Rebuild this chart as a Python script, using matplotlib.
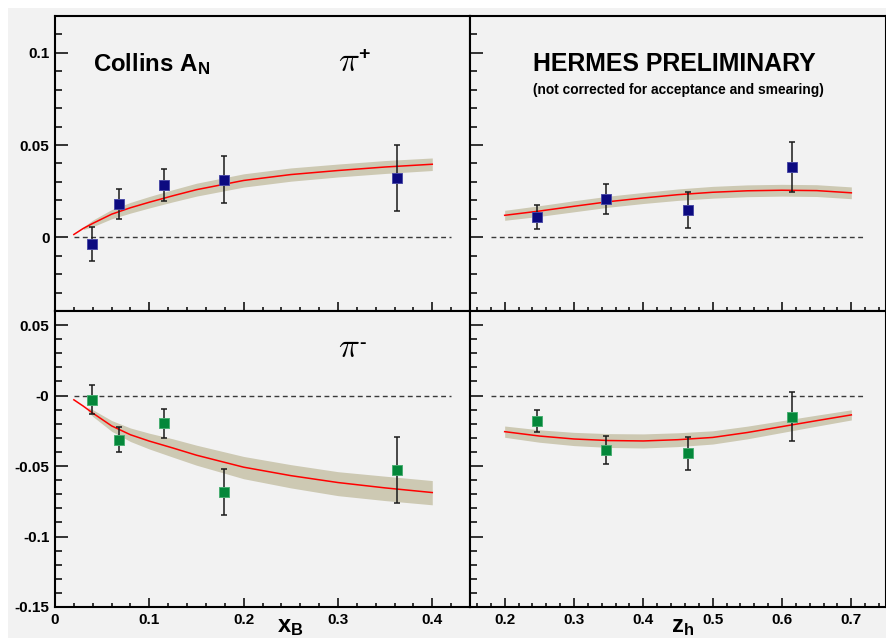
import matplotlib
matplotlib.use("Agg")
import matplotlib.pyplot as plt
from matplotlib.patches import Rectangle
from matplotlib.ticker import MultipleLocator

plt.rcParams['font.family'] = ['Liberation Sans', 'DejaVu Sans']
plt.rcParams['font.weight'] = 'bold'
plt.rcParams['mathtext.fontset'] = 'custom'
plt.rcParams['mathtext.rm'] = 'Liberation Sans:bold'
plt.rcParams['mathtext.bf'] = 'Liberation Sans:bold'
plt.rcParams['mathtext.it'] = 'Liberation Sans:bold'

### DATA ###

# HERMES Collins asymmetry, pi+ and pi- vs x_B and z_h
xb_pts = [0.039, 0.068, 0.1155, 0.179, 0.363]
zh_pts = [0.2465, 0.3455, 0.4647, 0.615]

an_pip_xb = [-0.0036, 0.0181, 0.0284, 0.0313, 0.0322]
err_pip_xb = [0.0092, 0.0080, 0.0087, 0.0127, 0.0181]
an_pim_xb = [-0.0028, -0.0313, -0.0197, -0.0685, -0.0529]
err_pim_xb = [0.0100, 0.0090, 0.0105, 0.0161, 0.0236]

an_pip_zh = [0.0111, 0.0208, 0.0148, 0.0380]
err_pip_zh = [0.0064, 0.0083, 0.0096, 0.0137]
an_pim_zh = [-0.0180, -0.0386, -0.0410, -0.0149]
err_pim_zh = [0.0075, 0.0097, 0.0116, 0.0173]

# model curves
curve_xb = [0.02, 0.03, 0.04, 0.06, 0.08, 0.10, 0.125, 0.15, 0.20, 0.25, 0.30, 0.35, 0.40]
curve_pip_xb = [0.0015, 0.0048, 0.0075, 0.0125, 0.0160, 0.0190, 0.0225, 0.0258, 0.0308, 0.0340, 0.0362, 0.0381, 0.0396]
curve_pim_xb = [-0.0030, -0.0075, -0.0124, -0.0215, -0.0278, -0.0323, -0.0372, -0.0423, -0.0508, -0.0568, -0.0617, -0.0655, -0.0688]

curve_zh = [0.20, 0.25, 0.30, 0.35, 0.40, 0.45, 0.50, 0.55, 0.60, 0.65, 0.70]
curve_pip_zh = [0.0119, 0.0142, 0.0168, 0.0193, 0.0213, 0.0231, 0.0244, 0.0252, 0.0255, 0.0253, 0.0241]
curve_pim_zh = [-0.0256, -0.0287, -0.0308, -0.0319, -0.0322, -0.0313, -0.0297, -0.0262, -0.0220, -0.0178, -0.0137]

# model uncertainty bands
band_pip_xb = [0.03, 0.04, 0.06, 0.08, 0.10, 0.125, 0.15, 0.20, 0.25, 0.30, 0.35, 0.40]
band_pip_xb_lo = [0.0042, 0.0057, 0.0100, 0.0131, 0.0159, 0.0192, 0.0223, 0.0272, 0.0304, 0.0327, 0.0346, 0.0362]
band_pip_xb_hi = [0.0056, 0.0093, 0.0150, 0.0189, 0.0221, 0.0258, 0.0293, 0.0344, 0.0376, 0.0397, 0.0416, 0.0430]

band_pim_xb = [0.035, 0.04, 0.06, 0.08, 0.10, 0.125, 0.15, 0.20, 0.25, 0.30, 0.35, 0.40]
band_pim_xb_lo = [-0.0114, -0.0148, -0.0253, -0.0326, -0.0379, -0.0437, -0.0494, -0.0590, -0.0655, -0.0710, -0.0745, -0.0775]
band_pim_xb_hi = [-0.0084, -0.0100, -0.0177, -0.0230, -0.0267, -0.0307, -0.0352, -0.0432, -0.0490, -0.0540, -0.0572, -0.0603]

band_pip_zh_lo = [0.0092, 0.0113, 0.0138, 0.0163, 0.0183, 0.0200, 0.0212, 0.0220, 0.0223, 0.0221, 0.0209]
band_pip_zh_hi = [0.0146, 0.0171, 0.0198, 0.0223, 0.0243, 0.0262, 0.0276, 0.0284, 0.0287, 0.0285, 0.0273]
band_pim_zh_lo = [-0.0296, -0.0331, -0.0355, -0.0368, -0.0372, -0.0362, -0.0344, -0.0307, -0.0262, -0.0217, -0.0173]
band_pim_zh_hi = [-0.0216, -0.0243, -0.0261, -0.0270, -0.0272, -0.0264, -0.0250, -0.0217, -0.0178, -0.0139, -0.0101]

# axis ranges, ticks and zero-line extents
xb_range = (0.0, 0.44)
zh_range = (0.15, 0.75)
top_range = (-0.04, 0.12)
bot_range = (-0.15, 0.06)
zero_xb = (0.02, 0.42)
zero_zh = (0.18, 0.72)

xb_ticks = [0.0, 0.1, 0.2, 0.3, 0.4]
xb_labels = ['0', '0.1', '0.2', '0.3', '0.4']
zh_ticks = [0.2, 0.3, 0.4, 0.5, 0.6, 0.7]
zh_labels = ['0.2', '0.3', '0.4', '0.5', '0.6', '0.7']
top_ticks = [0.0, 0.05, 0.1]
top_labels = ['0', '0.05', '0.1']
bot_ticks = [-0.15, -0.1, -0.05, 0.0, 0.05]
bot_labels = ['-0.15', '-0.1', '-0.05', '-0', '0.05']

BG = '#f2f2f2'
BAND = '#cdc9b3'
BLUE, BLUE_EDGE = '#0c0a80', '#4a4aa6'
GREEN, GREEN_EDGE = '#04873a', '#4aae72'

W, H = 886, 638
fig = plt.figure(figsize=(W / 100, H / 100), dpi=100, facecolor='white')
fig.patches.append(Rectangle((8 / W, 0), 1, 1 - 8 / H, transform=fig.transFigure,
                             facecolor=BG, edgecolor='none', zorder=-5))

L, M, R = 55 / W, 470 / W, 1.0
T, C, B = 1 - 16 / H, 1 - 311 / H, 1 - 607 / H
ax_tl = fig.add_axes([L, C, M - L, T - C])
ax_tr = fig.add_axes([M, C, R - M, T - C])
ax_bl = fig.add_axes([L, B, M - L, C - B])
ax_br = fig.add_axes([M, B, R - M, C - B])


def style(ax, xr, yr, xt, xl, yt, yl):
    ax.set_facecolor(BG)
    ax.set_xlim(*xr)
    ax.set_ylim(*yr)
    ax.set_xticks(xt, xl if xl else [''] * len(xt))
    ax.set_yticks(yt, yl if yl else [''] * len(yt))
    ax.xaxis.set_minor_locator(MultipleLocator(0.02))
    ax.yaxis.set_minor_locator(MultipleLocator(0.01))
    for s in ax.spines.values():
        s.set_linewidth(1.5)
    ax.tick_params(axis='both', which='both', direction='in', width=1.1,
                   labelsize=11, top=False, right=False)
    ax.tick_params(axis='x', which='major', length=6.5, pad=4)
    ax.tick_params(axis='x', which='minor', length=3.2)
    ax.tick_params(axis='y', which='major', length=9.4, pad=4)
    ax.tick_params(axis='y', which='minor', length=4.7)
    for lab in ax.get_xticklabels() + ax.get_yticklabels():
        lab.set_fontweight('bold')


def draw(ax, x, y, err, face, edge, cx, cy, bx, blo, bhi, zero):
    ax.hlines(0, zero[0], zero[1], colors='#3a3a3a', linestyles=(0, (3.5, 2.5)),
              linewidth=1.0, zorder=1)
    ax.fill_between(bx, blo, bhi, color=BAND, linewidth=0, zorder=2)
    ax.plot(cx, cy, color='#ff0000', lw=1.1, zorder=3)
    ax.errorbar(x, y, yerr=err, fmt='none', ecolor='#1a1a1a', elinewidth=1.1,
                capsize=2.2, capthick=1.1, zorder=4)
    ax.plot(x, y, 's', ms=7.7, mfc=face, mec=edge, mew=0.7, zorder=5)


style(ax_tl, xb_range, top_range, xb_ticks, None, top_ticks, top_labels)
style(ax_tr, zh_range, top_range, zh_ticks, None, top_ticks, None)
style(ax_bl, xb_range, bot_range, xb_ticks, xb_labels, bot_ticks, bot_labels)
style(ax_br, zh_range, bot_range, zh_ticks, zh_labels, bot_ticks, None)

draw(ax_tl, xb_pts, an_pip_xb, err_pip_xb, BLUE, BLUE_EDGE, curve_xb, curve_pip_xb,
     band_pip_xb, band_pip_xb_lo, band_pip_xb_hi, zero_xb)
draw(ax_bl, xb_pts, an_pim_xb, err_pim_xb, GREEN, GREEN_EDGE, curve_xb, curve_pim_xb,
     band_pim_xb, band_pim_xb_lo, band_pim_xb_hi, zero_xb)
draw(ax_tr, zh_pts, an_pip_zh, err_pip_zh, BLUE, BLUE_EDGE, curve_zh, curve_pip_zh,
     curve_zh, band_pip_zh_lo, band_pip_zh_hi, zero_zh)
draw(ax_br, zh_pts, an_pim_zh, err_pim_zh, GREEN, GREEN_EDGE, curve_zh, curve_pim_zh,
     curve_zh, band_pim_zh_lo, band_pim_zh_hi, zero_zh)


def px(x, y):
    return x / W, 1 - y / H


fig.text(*px(93, 71), r"Collins A$_{\mathbf{N}}$", fontsize=17.3, fontweight='bold', va='baseline')
fig.text(*px(338, 71), r"$\pi$", math_fontfamily='cm', fontsize=25,
         fontweight='normal', va='baseline')
fig.text(*px(364, 55), "+", fontsize=14, fontweight='bold', ha='center', va='center')
fig.text(*px(338, 357), r"$\pi$", math_fontfamily='cm', fontsize=25,
         fontweight='normal', va='baseline')
fig.text(*px(363, 343), "-", fontsize=14, fontweight='bold', ha='center', va='center')
fig.text(*px(533, 71), "HERMES PRELIMINARY", fontsize=17.9, fontweight='bold', va='baseline')
fig.text(*px(533, 94), "(not corrected for acceptance and smearing)", fontsize=9.9,
         fontweight='bold', va='baseline')
fig.text(*px(277, 632), r"x$_{\mathbf{B}}$", fontsize=17, fontweight='bold', va='baseline')
fig.text(*px(671, 632), r"z$_{\mathbf{h}}$", fontsize=17, fontweight='bold', va='baseline')

fig.savefig("out.png", dpi=100, facecolor=fig.get_facecolor())
